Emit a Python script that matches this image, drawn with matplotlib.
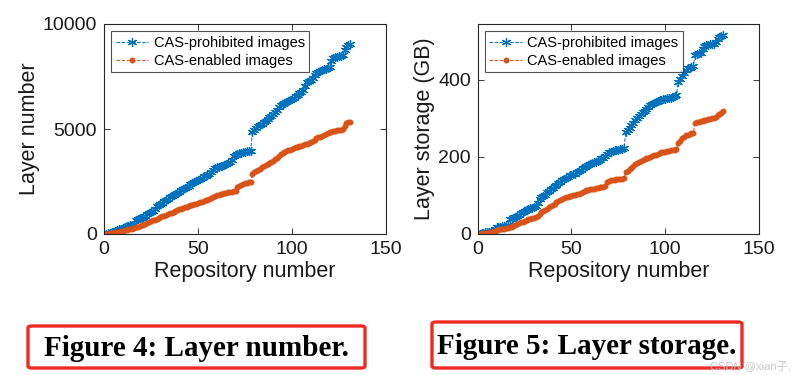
import matplotlib
matplotlib.use("Agg")
import matplotlib.pyplot as plt
from matplotlib.patches import FancyBboxPatch

plt.rcParams['font.family'] = ['Liberation Sans', 'DejaVu Sans']

repos = list(range(1, 132))

# Figure 4: layer number
layers_prohibited = [
    20, 40, 60, 80, 110, 140, 180, 220, 260, 300,
    330, 360, 390, 420, 450, 480, 650, 700, 740, 780,
    830, 880, 950, 1000, 1060, 1100, 1200, 1350, 1400, 1450,
    1500, 1560, 1620, 1680, 1740, 1800, 1850, 1900, 1960, 2020,
    2080, 2140, 2200, 2250, 2300, 2360, 2420, 2480, 2540, 2580,
    2620, 2680, 2740, 2780, 2830, 2870, 2950, 3050, 3120, 3170,
    3200, 3230, 3260, 3300, 3350, 3400, 3450, 3520, 3700, 3780,
    3830, 3860, 3880, 3900, 3920, 3930, 3940, 3950,
    4850,
    4950, 5050, 5120, 5180, 5250, 5320, 5400, 5480, 5550, 5600, 5700,
    5800, 5900, 6050, 6150, 6200, 6250, 6300, 6350, 6400, 6450,
    6500, 6550, 6620, 6700, 6780, 6850, 7050, 7250, 7300, 7350,
    7450, 7550, 7650, 7720, 7780, 7820, 7860, 7880, 7900, 7950,
    8250, 8380, 8420, 8440, 8460, 8480, 8520, 8750, 8900, 9000, 9050,
]
layers_enabled = [
    10, 20, 30, 45, 60, 75, 95, 115, 135, 155,
    175, 195, 215, 235, 260, 290, 320, 350, 380, 410,
    450, 490, 530, 570, 610, 650, 690, 730, 770, 810,
    850, 880, 910, 950, 990, 1020, 1060, 1100, 1140, 1180,
    1210, 1240, 1270, 1300, 1330, 1360, 1390, 1420, 1450, 1480,
    1510, 1540, 1570, 1600, 1640, 1680, 1720, 1780, 1830, 1860,
    1880, 1900, 1920, 1940, 1960, 1980, 2000, 2020, 2040, 2060,
    2240, 2300, 2340, 2380, 2410, 2440, 2460, 2480,
    2880,
    2930, 2980, 3030, 3100, 3180, 3250, 3300, 3350, 3400, 3450, 3500,
    3560, 3640, 3720, 3800, 3850, 3900, 3940, 3980, 4020, 4060,
    4090, 4120, 4150, 4180, 4210, 4240, 4270, 4300, 4340, 4400,
    4450, 4500, 4550, 4600, 4640, 4680, 4720, 4760, 4800, 4840,
    4870, 4890, 4910, 4930, 4950, 4970, 5000, 5150, 5270, 5330, 5350,
]

# Figure 5: layer storage (GB)
storage_prohibited = [
    1, 2, 3, 4, 5, 6, 7, 9, 14, 17,
    18, 19, 20, 21, 22, 23, 38, 40, 42, 44,
    47, 50, 54, 57, 60, 63, 65, 67, 68, 70,
    72, 80, 90, 95, 98, 102, 108, 112, 116, 120,
    124, 128, 132, 136, 140, 143, 146, 149, 152, 154,
    155, 157, 160, 163, 166, 170, 174, 177, 179, 182,
    184, 186, 188, 190, 193, 196, 198, 202, 208, 212,
    214, 216, 217, 218, 219, 220, 221, 222,
    265,
    270, 276, 282, 288, 295, 302, 307, 312, 316, 320, 325,
    330, 334, 338, 341, 343, 345, 347, 349, 350, 351,
    352, 353, 354, 356, 358, 360,
    395, 402, 410, 418, 425, 430, 432, 434, 436,
    465, 467, 469, 470, 480, 488, 490, 491, 492, 493, 494, 498, 505, 510, 514, 517,
]
storage_enabled = [
    0.5, 1, 1.5, 2, 3, 4, 5, 6, 8, 10,
    11, 12, 13, 14, 15, 16, 18, 19, 21, 24,
    26, 28, 30, 32, 35, 37, 39, 40, 41, 42,
    44, 48, 52, 56, 60, 63, 66, 70, 73, 76,
    79, 82, 85, 88, 91, 93, 95, 97, 98, 99,
    100, 101, 103, 105, 107, 109, 111, 113, 115, 116,
    117, 118, 119, 120, 121, 122, 123, 125, 135, 138,
    139, 140, 141, 142, 143, 143, 144, 145,
    160,
    164, 168, 172, 176, 181, 185, 188, 190, 192, 194, 196,
    198, 200, 202, 204, 206, 208, 210, 212, 213, 214,
    215, 216, 217, 218, 219, 221,
    236, 242, 248, 253, 256, 258, 260, 261, 262,
    288, 290, 291, 292, 294, 296, 297, 298, 299, 300, 301, 303, 308, 312, 315, 318,
]

BLUE = '#0072BD'
ORANGE = '#D95319'
INK = '#1a1a1a'

fig = plt.figure(figsize=(7.95, 3.75), dpi=100)
ax1 = fig.add_axes([0.1308, 0.376, 0.3547, 0.56])
ax2 = fig.add_axes([0.601, 0.376, 0.3535, 0.56])
panels = {ax1: (layers_prohibited, layers_enabled),
          ax2: (storage_prohibited, storage_enabled)}


def style_axes(ax, ylabel, ylim, yticks):
    ax.plot(repos, panels[ax][0], linestyle='--', linewidth=0.7, color=BLUE,
            marker=(6, 2, 0), markersize=6.5, markeredgewidth=0.9,
            label='CAS-prohibited images')
    ax.plot(repos, panels[ax][1], linestyle='--', linewidth=0.7, color=ORANGE,
            marker='.', markersize=6.5, label='CAS-enabled images')
    ax.set_xlim(0, 150)
    ax.set_ylim(*ylim)
    ax.set_xticks([0, 50, 100, 150])
    ax.set_yticks(yticks)
    ax.tick_params(direction='in', top=True, right=True, labelsize=14,
                   length=4, width=0.6, colors=INK, pad=5)
    for s in ax.spines.values():
        s.set_linewidth(0.8)
        s.set_color('#262626')
    ax.set_xlabel('Repository number', fontsize=15.5, color=INK, labelpad=2)
    ax.set_ylabel(ylabel, fontsize=15.5, color=INK, labelpad=2)
    leg = ax.legend(loc='upper left', fontsize=10.5, frameon=True, fancybox=False,
                    edgecolor='#262626', borderpad=0.3, handlelength=2.2,
                    handletextpad=0.4, labelspacing=0.3, borderaxespad=0.5)
    leg.get_frame().set_linewidth(0.8)


style_axes(ax1, 'Layer number', (0, 10000), [0, 5000, 10000])
style_axes(ax2, 'Layer storage (GB)', (0, 545), [0, 200, 400])

# captions with red boxes
for (x0, y0, w, h, txt) in [(28, 326, 337, 42, 'Figure 4: Layer number.'),
                            (432, 322, 310, 46, 'Figure 5: Layer storage.')]:
    box = FancyBboxPatch((x0 / 795, 1 - (y0 + h) / 375), w / 795, h / 375,
                         boxstyle='round,pad=0,rounding_size=0.005',
                         transform=fig.transFigure, facecolor='none',
                         edgecolor='#EE2A24', linewidth=2.4)
    fig.patches.append(box)
    fig.text((x0 + w / 2) / 795, 1 - (y0 + h / 2 + 1) / 375, txt,
             ha='center', va='center', fontsize=21, fontweight='bold',
             family=['Liberation Serif', 'DejaVu Serif'])

# faint watermark, kept just below the caption text
fig.text(0.995, 1 - 367 / 375, 'CSDN @xian子,', ha='right', va='center',
         fontsize=8, color='#c8c8c8',
         family=['Liberation Sans', 'Noto Sans CJK SC'])

fig.savefig('out.png', dpi=100)
